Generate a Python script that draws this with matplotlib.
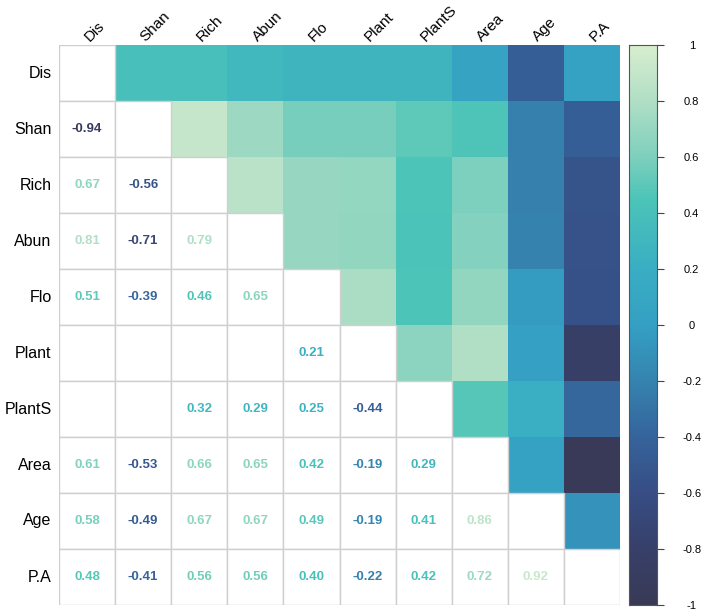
import numpy as np
import matplotlib
matplotlib.use("Agg")
import matplotlib.pyplot as plt
from matplotlib.colors import LinearSegmentedColormap
from matplotlib.patches import Rectangle

plt.rcParams['font.family'] = ['Liberation Sans', 'DejaVu Sans']

labels = ["Dis", "Shan", "Rich", "Abun", "Flo", "Plant", "PlantS", "Area", "Age", "P.A"]

# lower triangle: printed coefficients (None = not shown)
low_shan = [-0.94]
low_rich = [0.67, -0.56]
low_abun = [0.81, -0.71, 0.79]
low_flo = [0.51, -0.39, 0.46, 0.65]
low_plant = [None, None, None, None, 0.21]
low_plants = [None, None, 0.32, 0.29, 0.25, -0.44]
low_area = [0.61, -0.53, 0.66, 0.65, 0.42, -0.19, 0.29]
low_age = [0.58, -0.49, 0.67, 0.67, 0.49, -0.19, 0.41, 0.86]
low_pa = [0.48, -0.41, 0.56, 0.56, 0.40, -0.22, 0.42, 0.72, 0.92]
lower = [[], low_shan, low_rich, low_abun, low_flo, low_plant, low_plants, low_area, low_age, low_pa]

# upper triangle: coloured squares (values estimated from colour)
up_dis = [0.40, 0.40, 0.31, 0.28, 0.27, 0.28, 0.05, -0.45, 0.02]
up_shan = [0.90, 0.72, 0.58, 0.58, 0.50, 0.46, -0.22, -0.45]
up_rich = [0.85, 0.70, 0.69, 0.45, 0.60, -0.22, -0.55]
up_abun = [0.70, 0.68, 0.44, 0.62, -0.21, -0.56]
up_flo = [0.78, 0.45, 0.68, -0.03, -0.57]
up_plant = [0.66, 0.80, 0.00, -0.82]
up_plants = [0.48, 0.20, -0.38]
up_area = [0.02, -0.97]
up_age = [-0.10]
upper = [up_dis, up_shan, up_rich, up_abun, up_flo, up_plant, up_plants, up_area, up_age, []]

cmap = LinearSegmentedColormap.from_list("corr", [
    (0.00, "#383a55"), (0.10, "#38406a"), (0.20, "#374e85"), (0.30, "#36649c"),
    (0.40, "#3584b0"), (0.50, "#35a0c4"), (0.60, "#3aaec3"), (0.725, "#4cc4b8"),
    (0.80, "#7dd0bd"), (0.90, "#b0dfc6"), (1.00, "#d8eecf")])

n = len(labels)
fig = plt.figure(figsize=(7.09, 6.15), dpi=100)
ax = fig.add_axes([59/709, 1-605/615, 561/709, 560/615])

mat = np.full((n, n), np.nan)
for i, row in enumerate(upper):
    for k, v in enumerate(row):
        mat[i, i+1+k] = v
ax.imshow(np.ma.masked_invalid(mat), cmap=cmap, vmin=-1, vmax=1,
          extent=(0, n, n, 0), aspect='auto', interpolation='nearest')

for i in range(n):
    for j in range(i+1):
        ax.add_patch(Rectangle((j, i), 1, 1, facecolor='white', edgecolor='#cfcfcf', lw=1))
    for j, v in enumerate(lower[i]):
        if v is None:
            continue
        ax.text(j+0.5, i+0.5, "%.2f" % v, ha='center', va='center', fontsize=9.5,
                fontweight='bold', color=cmap((v+1)/2))

ax.set_xlim(0, n)
ax.set_ylim(n, 0)
ax.set_xticks([])
ax.set_yticks([])
for s in ax.spines.values():
    s.set_visible(False)

for i, lab in enumerate(labels):
    ax.text(-0.13, i+0.5, lab, ha='right', va='center', fontsize=11.5)
    ax.text(i+0.58, -0.02, lab, ha='left', va='bottom', rotation=45,
            rotation_mode='anchor', fontsize=11)

cax = fig.add_axes([629/709, 1-605/615, 28/709, 560/615])
grad = np.linspace(-1, 1, 256).reshape(-1, 1)
cax.imshow(grad, cmap=cmap, vmin=-1, vmax=1, aspect='auto', origin='lower',
           extent=(0, 1, -1, 1))
cax.set_xticks([])
cax.yaxis.tick_right()
ticks = [1, 0.8, 0.6, 0.4, 0.2, 0, -0.2, -0.4, -0.6, -0.8, -1]
cax.set_yticks(ticks)
cax.set_yticklabels([("%g" % t) for t in ticks], ha='center')
cax.tick_params(axis='y', length=5, width=0.8, color='#444444', pad=20, labelsize=8)
for s in cax.spines.values():
    s.set_color('#555555')
    s.set_linewidth(0.8)

fig.savefig("out.png", dpi=100)
